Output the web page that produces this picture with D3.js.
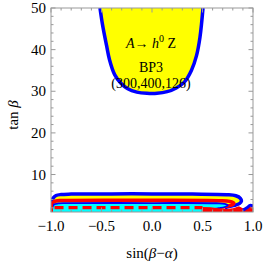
<!DOCTYPE html>
<html>
<head>
<meta charset="utf-8">
<script src="https://cdn.jsdelivr.net/npm/d3@7"></script>
<style>
  body { margin: 0; background: #fff; }
  text { font-family: "Liberation Serif", "DejaVu Serif", serif; }
</style>
</head>
<body>
<script>
const WIDTH = 263;
const HEIGHT = 264;
const LEFT = 51, RIGHT = 253, TOP = 8, BOTTOM = 212;

// data, in (sin(beta-alpha), tan beta)
const xTicks = [-1.0, -0.5, 0.0, 0.5, 1.0];
const yTicks = [10, 20, 30, 40, 50];

// A -> h0 Z region at large tan beta
const upperRegion = [[-0.515, 50], [-0.49, 46], [-0.45, 41], [-0.42, 37.5], [-0.37, 34], [-0.31, 32],
    [-0.24, 30.6], [-0.15, 29.8], [-0.05, 29.5], [0.05, 29.5], [0.15, 29.9], [0.24, 30.8],
    [0.32, 32.2], [0.39, 35], [0.44, 38.5], [0.475, 43], [0.505, 50]];

// low tan beta bands
const outerBlue = [[-1, 1], [-0.995, 3], [-0.98, 4.3], [-0.95, 4.95], [-0.9, 5.2], [-0.8, 5.3],
    [-0.4, 5.35], [0, 5.35], [0.4, 5.3], [0.74, 5.15], [0.83, 4.9], [0.875, 4.3], [0.885, 3.6],
    [0.865, 3.0], [0.82, 2.6], [0.76, 2.3], [0.72, 2.0]];
const redLine = [[-1, 1], [-0.995, 2.5], [-0.98, 3.3], [-0.95, 3.65], [-0.9, 3.75], [0, 3.8],
    [0.66, 3.72], [0.77, 3.55], [0.81, 3.15], [0.8, 2.75], [0.75, 2.45], [0.68, 2.25]];
const cyanRegion = [[-0.99, 1], [-0.985, 2.2], [-0.97, 2.8], [-0.93, 3.05], [-0.85, 3.12], [0, 3.15],
    [0.64, 3.1], [0.72, 2.95], [0.75, 2.6], [0.72, 2.2], [0.66, 1.9], [0.6, 1.6], [0.6, 1]];
const redDashed = [[-0.965, 2.05], [0.5, 2.05]];
const redBlob = [[0.5, 1], [0.5, 2.0], [0.58, 1.95], [0.66, 1.75], [0.74, 1.55], [0.8, 1.7],
    [0.86, 2.2], [0.9, 1.7], [0.94, 1.6], [0.97, 2.1], [1.0, 2.3], [1.0, 1]];
const blueHook = [[0.9, 1.4], [0.94, 2.0], [0.97, 2.6], [1.0, 2.5]];
const redEdge = [[-1, 1], [-1, 3.2]];

const x = d3.scaleLinear().domain([-1, 1]).range([LEFT, RIGHT]);
const y = d3.scaleLinear().domain([1, 50]).range([BOTTOM, TOP]);

const svg = d3.select("body").append("svg")
    .attr("width", WIDTH)
    .attr("height", HEIGHT);

svg.append("clipPath").attr("id", "plot")
    .append("rect")
    .attr("x", LEFT).attr("y", TOP)
    .attr("width", RIGHT - LEFT).attr("height", BOTTOM - TOP);

const plot = svg.append("g").attr("clip-path", "url(#plot)");

const line = d3.line()
    .x(d => x(d[0]))
    .y(d => y(d[1]))
    .curve(d3.curveCatmullRom);

// upper yellow region with blue border
plot.append("path")
    .attr("d", line(upperRegion))
    .attr("fill", "#ffff00")
    .attr("stroke", "#0000ff")
    .attr("stroke-width", 3.5);

// outer band
plot.append("path")
    .attr("d", line(outerBlue.concat([[0.72, 1]])))
    .attr("fill", "#ffff00")
    .attr("stroke", "none");
plot.append("path")
    .attr("d", line(outerBlue))
    .attr("fill", "none")
    .attr("stroke", "#0000ff")
    .attr("stroke-width", 3.5);

plot.append("path")
    .attr("d", line(redLine))
    .attr("fill", "none")
    .attr("stroke", "#ff0000")
    .attr("stroke-width", 3.5);

// cyan region
plot.append("path")
    .attr("d", line(cyanRegion))
    .attr("fill", "#00ffff")
    .attr("stroke", "#0000ff")
    .attr("stroke-width", 1.8);

plot.append("path")
    .attr("d", line(redDashed))
    .attr("fill", "none")
    .attr("stroke", "#ff0000")
    .attr("stroke-width", 3.2)
    .attr("stroke-dasharray", "9,5");

plot.append("path")
    .attr("d", d3.line().x(d => x(d[0])).y(d => y(d[1])).curve(d3.curveLinear)(redBlob))
    .attr("fill", "#ff0000")
    .attr("stroke", "#ff0000")
    .attr("stroke-width", 1.5);

plot.append("path")
    .attr("d", line(blueHook))
    .attr("fill", "none")
    .attr("stroke", "#0000ff")
    .attr("stroke-width", 3);

plot.append("path")
    .attr("d", d3.line().x(d => x(d[0])).y(d => y(d[1]))(redEdge))
    .attr("fill", "none")
    .attr("stroke", "#ff0000")
    .attr("stroke-width", 4);

// frame and ticks
const frame = svg.append("g").attr("stroke", "#999").attr("stroke-width", 1);
frame.append("rect")
    .attr("x", LEFT).attr("y", TOP)
    .attr("width", RIGHT - LEFT).attr("height", BOTTOM - TOP)
    .attr("fill", "none");

const xMinor = d3.range(-10, 11).map(i => i / 10);
xMinor.forEach(v => {
    const major = xTicks.some(t => Math.abs(t - v) < 1e-9);
    const len = major ? 4.5 : 2.5;
    frame.append("line").attr("x1", x(v)).attr("x2", x(v)).attr("y1", BOTTOM).attr("y2", BOTTOM - len);
    frame.append("line").attr("x1", x(v)).attr("x2", x(v)).attr("y1", TOP).attr("y2", TOP + len);
});
const yMinor = d3.range(2, 51, 2);
yMinor.forEach(v => {
    const major = v % 10 === 0;
    const len = major ? 4.5 : 2.5;
    frame.append("line").attr("y1", y(v)).attr("y2", y(v)).attr("x1", LEFT).attr("x2", LEFT + len);
    frame.append("line").attr("y1", y(v)).attr("y2", y(v)).attr("x1", RIGHT).attr("x2", RIGHT - len);
});

// tick labels
svg.append("g").selectAll("text").data(xTicks).join("text")
    .attr("x", d => x(d))
    .attr("y", 231)
    .attr("text-anchor", "middle")
    .attr("font-size", 15)
    .text(d => (d < 0 ? "\u2212" : "") + Math.abs(d).toFixed(1));

svg.append("g").selectAll("text").data(yTicks).join("text")
    .attr("x", 46)
    .attr("y", d => y(d) + 5)
    .attr("text-anchor", "end")
    .attr("font-size", 15)
    .text(d => d);

// axis titles
const xt = svg.append("text")
    .attr("x", 152).attr("y", 258)
    .attr("text-anchor", "middle")
    .attr("font-size", 15);
xt.append("tspan").text("sin(");
xt.append("tspan").attr("font-style", "italic").text("\u03b2");
xt.append("tspan").text("\u2212");
xt.append("tspan").attr("font-style", "italic").text("\u03b1");
xt.append("tspan").text(")");

const yt = svg.append("text")
    .attr("transform", "translate(18,115) rotate(-90)")
    .attr("text-anchor", "middle")
    .attr("font-size", 15);
yt.append("tspan").text("tan ");
yt.append("tspan").attr("font-style", "italic").text("\u03b2");

// annotation
const t1 = svg.append("text")
    .attr("x", 151).attr("y", 48)
    .attr("text-anchor", "middle")
    .attr("font-size", 14);
t1.append("tspan").attr("font-style", "italic").text("A");
t1.append("tspan").text("\u2192 ");
t1.append("tspan").attr("font-style", "italic").text("h");
t1.append("tspan").attr("font-size", 10).attr("dy", -6).text("0");
t1.append("tspan").attr("dy", 6).text(" Z");

svg.append("text")
    .attr("x", 151).attr("y", 72)
    .attr("text-anchor", "middle")
    .attr("font-size", 14)
    .text("BP3");
svg.append("text")
    .attr("x", 151).attr("y", 88)
    .attr("text-anchor", "middle")
    .attr("font-size", 14)
    .text("(300,400,126)");
</script>
</body>
</html>
